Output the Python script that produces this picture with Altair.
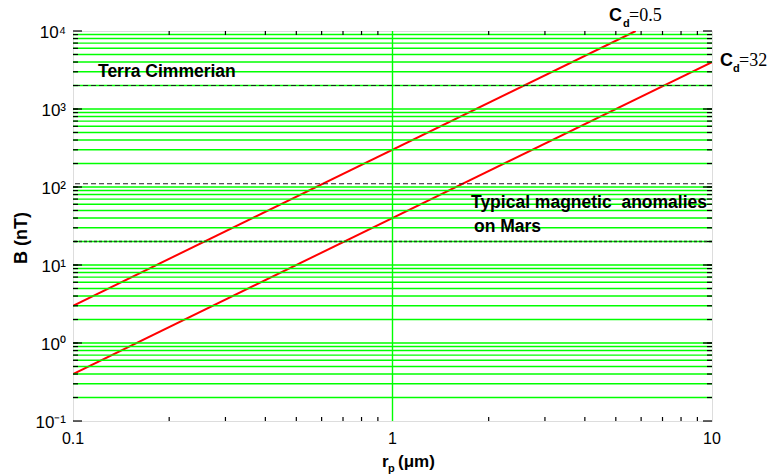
import altair as alt
import pandas as pd

# ---- data ----
cd05_x = [0.1, 5.77]
cd05_y = [3.0, 10000.0]
cd32_x = [0.1, 10.0]
cd32_y = [0.4, 4000.0]

dash_levels = [2000, 110]
dot_levels = [20]

grid_y = [0.2, 0.3, 0.4, 0.5, 0.6, 0.7, 0.8, 0.9,
          1, 2, 3, 4, 5, 6, 7, 8, 9,
          10, 20, 30, 40, 50, 60, 70, 80, 90,
          100, 200, 300, 400, 500, 600, 700, 800, 900,
          1000, 2000, 3000, 4000, 5000, 6000, 7000, 8000, 9000]
grid_x = [1]

y_major = [0.1, 1, 10, 100, 1000, 10000]
y_labels = ["10\u207b\u00b9", "10\u2070", "10\u00b9", "10\u00b2", "10\u00b3", "10\u2074"]
y_minor = grid_y
x_major = [0.1, 1, 10]
x_labels = ["0.1", "1", "10"]
x_minor = [0.2, 0.3, 0.4, 0.5, 0.6, 0.7, 0.8, 0.9, 2, 3, 4, 5, 6, 7, 8, 9]

W, H = 639, 390
SANS = "Liberation Sans"
SERIF = "Liberation Serif"

xs = alt.Scale(type="log", domain=[0.1, 10], nice=False)
ys = alt.Scale(type="log", domain=[0.1, 10000], nice=False)

lines_df = pd.DataFrame({
    "x": cd05_x + cd32_x,
    "y": cd05_y + cd32_y,
    "s": ["Cd=0.5"] * len(cd05_x) + ["Cd=32"] * len(cd32_x),
})

red = alt.Chart(lines_df).mark_line(color="#ff0000", strokeWidth=2, clip=True).encode(
    x=alt.X("x:Q", scale=xs, axis=None),
    y=alt.Y("y:Q", scale=ys, axis=None),
    detail="s:N",
)

hgrid = alt.Chart(pd.DataFrame({"y": grid_y})).mark_rule(color="#00ff00", strokeWidth=1.4).encode(
    y=alt.Y("y:Q", scale=ys, axis=None))
vgrid = alt.Chart(pd.DataFrame({"x": grid_x})).mark_rule(color="#00ff00", strokeWidth=1.4).encode(
    x=alt.X("x:Q", scale=xs, axis=None))

dashed = alt.Chart(pd.DataFrame({"y": dash_levels})).mark_rule(
    color="#222222", strokeWidth=1.2, strokeDash=[5, 3]).encode(y=alt.Y("y:Q", scale=ys, axis=None))
dotted = alt.Chart(pd.DataFrame({"y": dot_levels})).mark_rule(
    color="#224422", strokeWidth=1.4, strokeDash=[3, 2]).encode(y=alt.Y("y:Q", scale=ys, axis=None))

ymaj_df = pd.DataFrame({"y": y_major, "lab": y_labels})
ymin_df = pd.DataFrame({"y": y_minor})
xmin_df = pd.DataFrame({"x": x_minor})
xmaj_df = pd.DataFrame({"x": x_major, "lab": x_labels})

tick_style = dict(color="black", strokeWidth=1.2)
ticks = [
    alt.Chart(ymaj_df).mark_rule(**tick_style).encode(y=alt.Y("y:Q", scale=ys, axis=None), x=alt.value(0), x2=alt.value(9)),
    alt.Chart(ymaj_df).mark_rule(**tick_style).encode(y=alt.Y("y:Q", scale=ys, axis=None), x=alt.value(W - 9), x2=alt.value(W)),
    alt.Chart(ymin_df).mark_rule(**tick_style).encode(y=alt.Y("y:Q", scale=ys, axis=None), x=alt.value(0), x2=alt.value(5)),
    alt.Chart(ymin_df).mark_rule(**tick_style).encode(y=alt.Y("y:Q", scale=ys, axis=None), x=alt.value(W - 5), x2=alt.value(W)),
    alt.Chart(xmin_df).mark_rule(**tick_style).encode(x=alt.X("x:Q", scale=xs, axis=None), y=alt.value(H - 4), y2=alt.value(H)),
    alt.Chart(xmin_df).mark_rule(**tick_style).encode(x=alt.X("x:Q", scale=xs, axis=None), y=alt.value(0), y2=alt.value(4)),
]

ylab = alt.Chart(ymaj_df).mark_text(align="right", baseline="middle", font=SANS, fontSize=17,
                                    color="black", dy=2).encode(
    y=alt.Y("y:Q", scale=ys, axis=None), x=alt.value(-7), text="lab:N")

xlab = alt.Chart(xmaj_df).mark_text(align="center", baseline="top", font=SANS, fontSize=16,
                                    color="black").encode(
    x=alt.X("x:Q", scale=xs, axis=None), y=alt.value(H + 10), text="lab:N")


def label(txt, x, y, size=17.5, bold=True, font=SANS, align="left", baseline="alphabetic", angle=0):
    kw = dict(align=align, baseline=baseline, font=font, fontSize=size, color="black",
              fontWeight="bold" if bold else "normal")
    if angle:
        kw["angle"] = angle
    return alt.Chart(pd.DataFrame({"t": [txt]})).mark_text(**kw).encode(
        x=alt.value(x), y=alt.value(y), text="t:N")


texts = [
    label("Terra Cimmerian", 25, 46),
    label("Typical magnetic\u00a0 anomalies", 398, 177),
    label("on Mars", 401, 201),
    label("C", 536, -10, size=18),
    label("d", 550, -4, size=11),
    label("=0.5", 556, -10, size=18, bold=False, font=SERIF),
    label("C", 647, 35, size=18),
    label("d", 660, 41, size=11),
    label("=32", 666, 35, size=18, bold=False, font=SERIF),
    label("r", 309, 436, size=17),
    label("p", 315, 441, size=11),
    label("(\u03bcm)", 325, 436, size=17),
    label("B (nT)", -51, 207, size=18, align="center", baseline="middle", angle=270),
]

chart = alt.layer(red, hgrid, vgrid, dashed, dotted, *ticks, ylab, xlab, *texts).properties(
    width=W, height=H,
    autosize=alt.AutoSizeParams(type="none"),
    padding={"left": 73, "top": 31, "right": 55, "bottom": 55},
).configure_view(stroke="black", strokeWidth=2).configure(background="white")

chart.save("out.html", embed_options={"renderer": "svg", "actions": False})
